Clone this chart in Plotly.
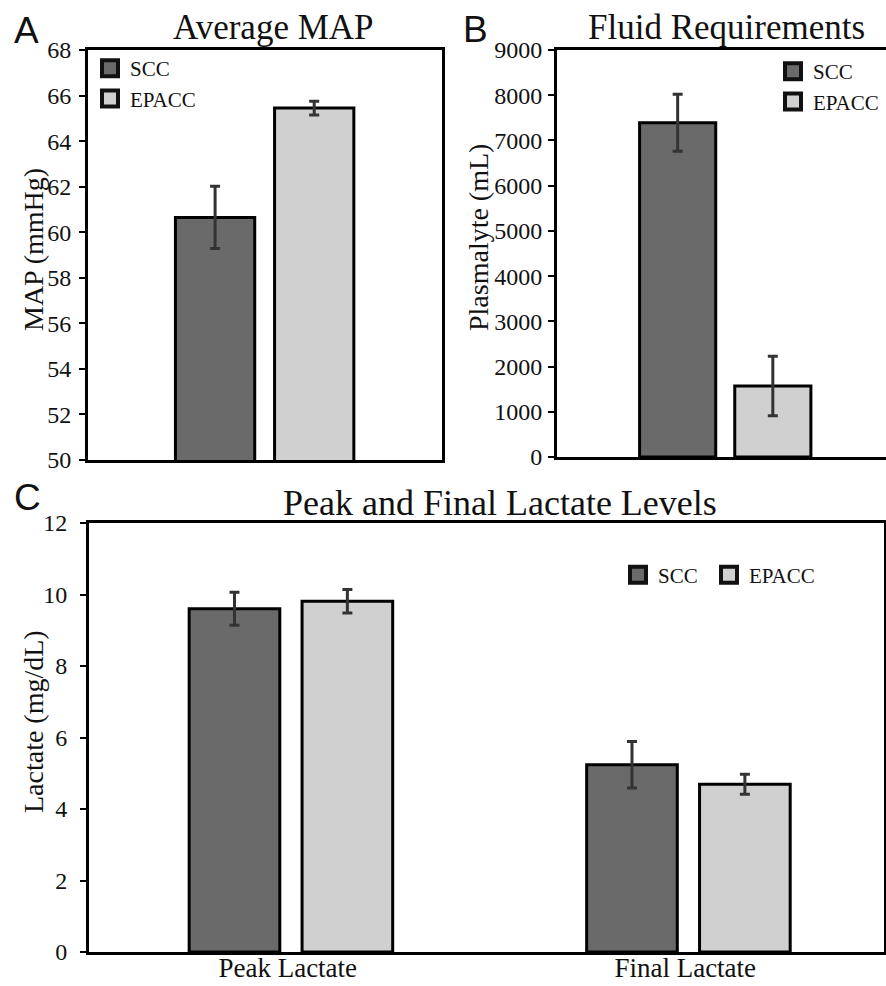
import plotly.graph_objects as go

# ---------------- data ----------------
groups = ["SCC", "EPACC"]

map_cat = ["MAP"]
map_scc = [60.65]
map_scc_err = [1.37]
map_epacc = [65.45]
map_epacc_err = [0.30]

fluid_cat = ["Fluid"]
fluid_scc = [7390]
fluid_scc_err = [630]
fluid_epacc = [1570]
fluid_epacc_err = [660]

lac_cat = ["Peak Lactate", "Final Lactate"]
lac_scc = [9.60, 5.24]
lac_scc_err = [0.46, 0.65]
lac_epacc = [9.81, 4.69]
lac_epacc_err = [0.33, 0.28]

map_ticks = [50, 52, 54, 56, 58, 60, 62, 64, 66, 68]
fluid_ticks = [0, 1000, 2000, 3000, 4000, 5000, 6000, 7000, 8000, 9000]
lac_ticks = [0, 2, 4, 6, 8, 10, 12]

# ---------------- style ----------------
W, H = 886, 986
SERIF = "Liberation Serif"
SANS = "Liberation Sans"
COL = {"SCC": "#6a6a6a", "EPACC": "#d0d0d0"}
ERRC = "#333333"
INK = "#111111"


def px_x(v):
    return v / W


def px_y(v):
    return 1 - v / H


fig = go.Figure()


def add_bars(cat, scc, scc_e, epa, epa_e, xa, ya, offs, width):
    for name, vals, errs, off in (("SCC", scc, scc_e, offs[0]),
                                  ("EPACC", epa, epa_e, offs[1])):
        fig.add_trace(go.Bar(
            x=cat, y=vals, name=name, xaxis=xa, yaxis=ya,
            offset=off, width=width, showlegend=False,
            marker=dict(color=COL[name], line=dict(color="#000000", width=3)),
            error_y=dict(type="data", array=errs, color=ERRC,
                         thickness=3, width=5),
        ))


def add_legend_entry(name, xa, ya, legend):
    fig.add_trace(go.Scatter(
        x=[None], y=[None], name=name, xaxis=xa, yaxis=ya,
        mode="markers", legend=legend,
        marker=dict(symbol="square", size=16, color=COL[name],
                    line=dict(color="#111111", width=4)),
    ))


add_bars(map_cat, map_scc, map_scc_err, map_epacc, map_epacc_err,
         "x", "y", (-0.253, 0.027), 0.224)
add_bars(fluid_cat, fluid_scc, fluid_scc_err, fluid_epacc, fluid_epacc_err,
         "x2", "y2", (-0.253, 0.027), 0.224)
add_bars(lac_cat, lac_scc, lac_scc_err, lac_epacc, lac_epacc_err,
         "x3", "y3", (-0.248, 0.036), 0.228)

for g in groups:
    add_legend_entry(g, "x", "y", "legend")
for g in groups:
    add_legend_entry(g, "x2", "y2", "legend2")
add_legend_entry(groups[0], "x3", "y3", "legend3")
add_legend_entry(groups[1], "x3", "y3", "legend4")

axis_common = dict(showline=True, linecolor="#000000", linewidth=3,
                   showgrid=False, zeroline=False, automargin=False)
yfont = dict(family=SERIF, size=24, color=INK)
legfont = dict(family=SERIF, size=21, color=INK)
leg_common = dict(bgcolor="rgba(0,0,0,0)", font=legfont, xanchor="left")

fig.update_layout(
    width=W, height=H,
    margin=dict(l=0, r=0, t=0, b=0, autoexpand=False),
    paper_bgcolor="white", plot_bgcolor="white",
    barmode="overlay",
    xaxis=dict(domain=[px_x(88), px_x(442)], range=[-0.5, 0.5],
               showticklabels=False, ticks="", mirror=True, anchor="y",
               **axis_common),
    yaxis=dict(domain=[px_y(460), px_y(50)], range=[50, 68],
               tickvals=map_ticks, ticks="outside", ticklen=6, tickwidth=2,
               tickcolor="#000000", tickfont=yfont, ticklabelstandoff=3,
               mirror=True, anchor="x", **axis_common),
    xaxis2=dict(domain=[px_x(557), 1.0], range=[-0.496, 0.472],
                showticklabels=False, ticks="", mirror=True, anchor="y2",
                **axis_common),
    yaxis2=dict(domain=[px_y(457), px_y(50)], range=[0, 9000],
                tickvals=fluid_ticks, ticks="outside", ticklen=6, tickwidth=2,
                tickcolor="#000000", tickfont=yfont, ticklabelstandoff=1,
                mirror=False, anchor="x2", **axis_common),
    xaxis3=dict(domain=[px_x(89), px_x(884)], range=[-0.5, 1.5],
                ticks="", mirror=True, anchor="y3", ticklabelstandoff=-10,
                tickfont=dict(family=SERIF, size=27, color=INK),
                **axis_common),
    yaxis3=dict(domain=[px_y(952), px_y(523)], range=[0, 12],
                tickvals=lac_ticks, ticks="outside", ticklen=6, tickwidth=2,
                tickcolor="#000000", tickfont=yfont, ticklabelstandoff=8,
                mirror=True, anchor="x3", **axis_common),
    legend=dict(x=px_x(90), y=px_y(48), yanchor="top", tracegroupgap=0,
                **leg_common),
    legend2=dict(x=px_x(773), y=px_y(51), yanchor="top", **leg_common),
    legend3=dict(x=px_x(618), y=px_y(575), yanchor="middle", **leg_common),
    legend4=dict(x=px_x(709), y=px_y(575), yanchor="middle", **leg_common),
)

annotations = [
    dict(text="Average MAP", x=px_x(273), y=px_y(27), size=35, fam=SERIF, angle=0),
    dict(text="Fluid Requirements", x=px_x(726), y=px_y(27), size=35, fam=SERIF, angle=0),
    dict(text="Peak and Final Lactate Levels", x=px_x(500), y=px_y(503), size=36, fam=SERIF, angle=0),
    dict(text="MAP (mmHg)", x=px_x(33), y=px_y(250), size=28, fam=SERIF, angle=-90),
    dict(text="Plasmalyte (mL)", x=px_x(478), y=px_y(237), size=28, fam=SERIF, angle=-90),
    dict(text="Lactate (mg/dL)", x=px_x(33), y=px_y(722), size=28, fam=SERIF, angle=-90),
    dict(text="A", x=px_x(26), y=px_y(31), size=37, fam=SANS, angle=0),
    dict(text="B", x=px_x(475), y=px_y(29), size=37, fam=SANS, angle=0),
    dict(text="C", x=px_x(27), y=px_y(497), size=37, fam=SANS, angle=0),
]
for a in annotations:
    fig.add_annotation(text=a["text"], x=a["x"], y=a["y"], xref="paper", yref="paper",
                       xanchor="center", yanchor="middle", showarrow=False,
                       textangle=a["angle"],
                       font=dict(family=a["fam"], size=a["size"], color=INK))

fig.write_html("out.html", config={"displayModeBar": False},
               post_script="document.body.style.margin='0';document.body.style.overflow='hidden';")
